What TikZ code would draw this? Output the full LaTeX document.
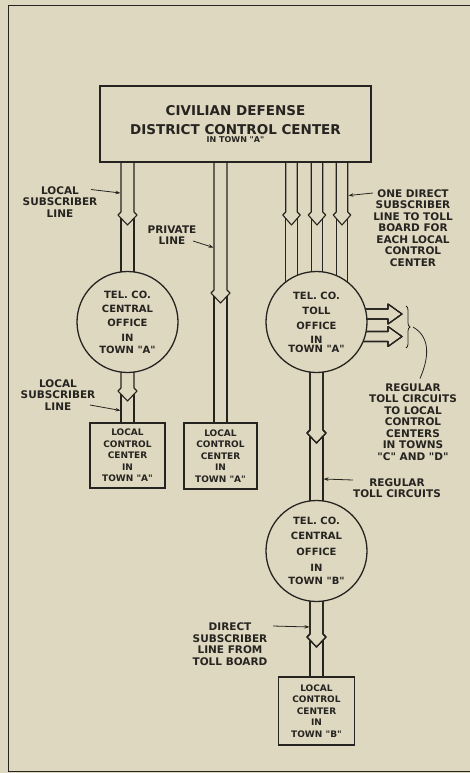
\documentclass[tikz,border=0pt]{standalone}
\usepackage{fontspec}
\newfontfamily\lettering{DejaVu Sans}
\usepackage{tikz}
\usetikzlibrary{arrows.meta,calc,backgrounds,decorations.pathreplacing}
\definecolor{paper}{RGB}{222,216,192}
\definecolor{ink}{RGB}{38,36,32}

\tikzset{
  wire/.style={draw=ink, line width=1.1pt, line join=round},
  ctrbox/.style={draw=ink, line width=1.5pt, fill=paper, text=ink, align=center, inner sep=0pt,
    font=\lettering\bfseries\fontsize{9}{11.4}\selectfont},
  office/.style={circle, draw=ink, line width=1.3pt, fill=paper, text=ink, minimum size=101pt,
    inner sep=0pt, align=center, font=\lettering\bfseries\fontsize{10}{12}\selectfont},
  note/.style={anchor=north, align=center, inner sep=0pt, text=ink,
    font=\lettering\bfseries\fontsize{10.5}{11.5}\selectfont},
  lead/.style={draw=ink, line width=0.8pt, -{Stealth[length=5pt,width=3.5pt]}}
}

% double-walled line with a direction chevron: x, half width, from, to, chevron y
\newcommand\duct[5]{%
  \coordinate (ax) at (#1,#5);
  \draw[wire] ($(#3 -| ax)+(-#2,0)$) -- ($(ax)+(-#2,0)$) -- ($(ax)+(-#2-3,3)$) -- ($(ax)+(0,13)$)
    -- ($(ax)+(#2+3,3)$) -- ($(ax)+(#2,0)$) -- ($(#3 -| ax)+(#2,0)$);
  \draw[wire] ($(ax)+(-#2,6)$) -- ($(#4 -| ax)+(-#2,0)$);
  \draw[wire] ($(ax)+(#2,6)$) -- ($(#4 -| ax)+(#2,0)$);
}

\begin{document}
\begin{tikzpicture}[x=1pt,y=-1pt]
\useasboundingbox (0,0) rectangle (470,773);

% control centers and offices
\node[ctrbox, minimum width=271pt, minimum height=76pt,
  font=\lettering\bfseries\fontsize{13.5}{19}\selectfont] (dcc) at (235.5,124)
  {CIVILIAN DEFENSE\\DISTRICT CONTROL CENTER\\[-11pt]{\fontsize{8}{8}\selectfont IN TOWN "A"}};
\node[office] (coA) at (127.5,322) {TEL. CO.\\[2pt]CENTRAL\\[2pt]OFFICE\\[3pt]IN\\TOWN "A"};
\node[office] (toll) at (316.5,322) {TEL. CO.\\[3pt]TOLL\\[3pt]OFFICE\\[2pt]IN\\[-3pt]TOWN "A"};
\node[office] (coB) at (316.5,551) {TEL. CO.\\[3pt]CENTRAL\\[4pt]OFFICE\\[4pt]IN\\[1pt]TOWN "B"};
\node[ctrbox, minimum width=75pt, minimum height=65pt] (lccA) at (127.5,455.5)
  {LOCAL\\CONTROL\\CENTER\\IN\\TOWN "A"};
\node[ctrbox, minimum width=73pt, minimum height=66pt] (lccP) at (220.5,456)
  {LOCAL\\CONTROL\\CENTER\\IN\\TOWN "A"};
\node[ctrbox, minimum width=76pt, minimum height=68pt] (lccB) at (316.5,711)
  {LOCAL\\CONTROL\\CENTER\\IN\\TOWN "B"};

% notes
\node[note] (subA) at (60,186.5) {LOCAL\\SUBSCRIBER\\LINE};
\node[note] (priv) at (172,225.5) {PRIVATE\\LINE};
\node[note] (onedir) at (413,189.5) {ONE DIRECT\\SUBSCRIBER\\LINE TO TOLL\\BOARD FOR\\EACH LOCAL\\CONTROL\\CENTER};
\node[note] (subB) at (58,379.5) {LOCAL\\SUBSCRIBER\\LINE};
\node[note] (regC) at (413,383.5) {REGULAR\\TOLL CIRCUITS\\TO LOCAL\\CONTROL\\CENTERS\\IN TOWNS\\"C" AND "D"};
\node[note] (regT) at (397,478.5) {REGULAR\\TOLL CIRCUITS};
\node[note] (direct) at (230,622.5) {DIRECT\\SUBSCRIBER\\LINE FROM\\TOLL BOARD};

\begin{scope}[on background layer]
  \fill[paper] (0,0) rectangle (470,773);
  \draw[ink, line width=1pt] (8,5.5) rectangle (490,771);
  \duct{127.5}{6.5}{dcc.south}{coA.center}{212}
  \duct{127.5}{6.5}{coA.center}{lccA.north}{388}
  \duct{220.5}{6.5}{dcc.south}{lccP.north}{290}
  \foreach \px in {291.5,317,342}
    \duct{\px}{5.75}{dcc.south}{toll.center}{212}
  \duct{316.5}{6.5}{toll.center}{coB.center}{430}
  \duct{316.5}{6.5}{coB.center}{lccB.north}{634}
  % toll circuits to towns C and D
  \foreach \dy in {-8,14.5}
    \draw[wire] ($(toll.center)+(0,\dy-5)$) -- ++(71.5,0) -- ++(0,-5) -- ++(14,10)
      -- ++(-14,10) -- ++(0,-5) -- ++(-71.5,0);
\end{scope}

% leaders
\coordinate (subAtail) at (91,189.5);   \coordinate (subAtip) at (120.5,193);
\coordinate (privtail) at (193,241);    \coordinate (privtip) at (213.5,247.5);
\coordinate (onetail) at (373,193);     \coordinate (onetip) at (348.5,195.5);
\coordinate (subBtail) at (90,405);     \coordinate (subBtip) at (120.5,410.5);
\coordinate (regTtail) at (353,480);    \coordinate (regTtip) at (323.5,479);
\coordinate (dirtail) at (273,626);     \coordinate (dirtip) at (309.5,627);
\draw[lead] (subAtail) -- (subAtip);
\draw[lead] (privtail) -- (privtip);
\draw[lead] (onetail) -- (onetip);
\draw[lead] (subBtail) -- (subBtip);
\draw[lead] (regTtail) -- (regTtip);
\draw[lead] (dirtail) -- (dirtip);

\draw[ink, line width=0.8pt, decorate, decoration={brace, amplitude=4pt}] (406,306) -- (406,348);
\coordinate (bracetip) at (413,327);
\draw[ink, line width=0.8pt] (bracetip) .. controls (432,338) and (428,360) .. ($(regC.north)+(7,-5)$);
\end{tikzpicture}
\end{document}
